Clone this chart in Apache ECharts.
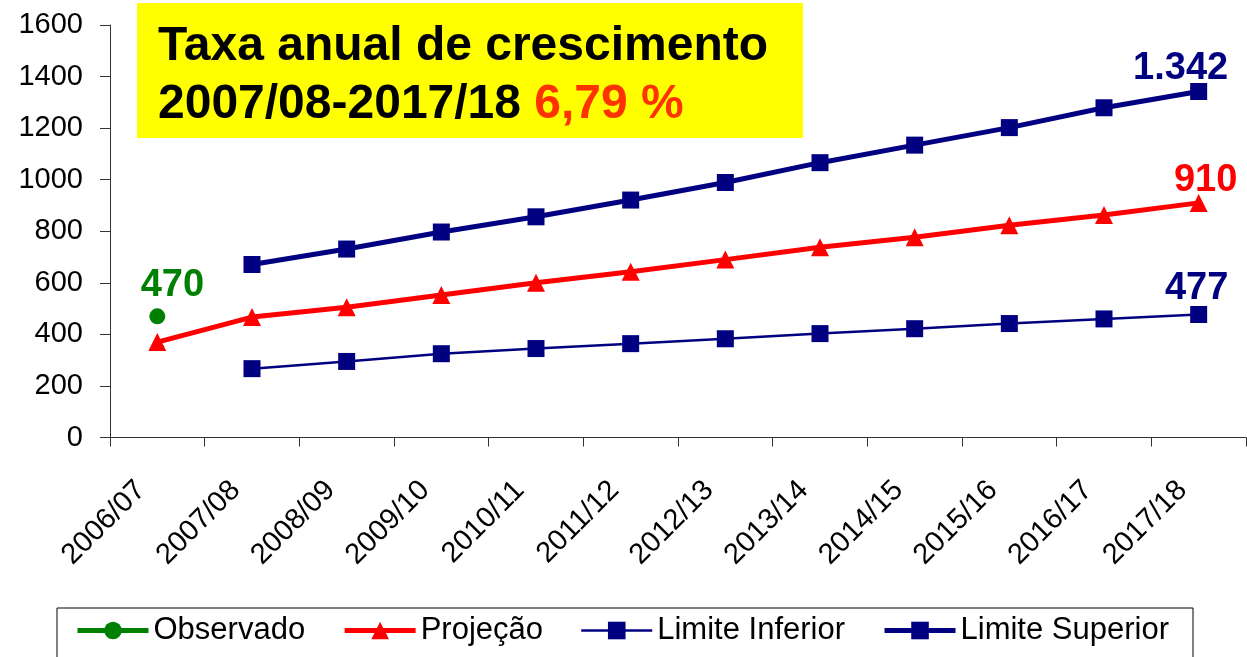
<!DOCTYPE html>
<html>
<head>
<meta charset="utf-8">
<script src="https://cdn.jsdelivr.net/npm/echarts@6/dist/echarts.min.js"></script>
<style>
  html, body { margin: 0; padding: 0; background: #fff; }
  #main { width: 1247px; height: 657px; }
</style>
</head>
<body>
<div id="main"></div>
<script>
// dados
var categorias = ['2006/07', '2007/08', '2008/09', '2009/10', '2010/11', '2011/12',
  '2012/13', '2013/14', '2014/15', '2015/16', '2016/17', '2017/18'];
var observado = [470, null, null, null, null, null, null, null, null, null, null, null];
var projecao = [370, 467, 505, 553, 600, 643, 690, 738, 777, 823, 863, 910];
var limiteInferior = [null, 267, 295, 325, 345, 364, 383, 403, 422, 442, 460, 477];
var limiteSuperior = [null, 671, 731, 797, 856, 921, 989, 1066, 1134, 1202, 1279, 1342];
var yTicks = [0, 200, 400, 600, 800, 1000, 1200, 1400, 1600];

var fonte = '"Liberation Sans", Arial, sans-serif';

// rótulo só num ponto
function comRotulo(arr, idx, cor, texto, off) {
  return arr.map(function (v, i) {
    if (i !== idx) return v;
    return {
      value: v,
      label: {
        show: true, position: 'top', distance: 5, offset: off,
        formatter: texto, color: cor, fontSize: 38, fontWeight: 'bold', fontFamily: fonte
      }
    };
  });
}

var chart = echarts.init(document.getElementById('main'));
chart.setOption({
  animation: false,
  // caixa amarela do título
  graphic: [{
    type: 'rect', z: 10,
    shape: { x: 137, y: 3, width: 666, height: 135 },
    style: { fill: '#ffff00' }
  }, {
    type: 'text', z: 11, x: 158, y: 47,
    style: {
      text: 'Taxa anual de crescimento',
      font: 'bold 48px ' + fonte, fill: '#000', verticalAlign: 'middle'
    }
  }, {
    type: 'text', z: 11, x: 158, y: 105,
    style: {
      text: '{a|2007/08-2017/18 }{r|6,79 %}',
      verticalAlign: 'middle',
      rich: {
        a: { fontSize: 48, fontWeight: 'bold', fill: '#000', fontFamily: fonte },
        r: { fontSize: 48, fontWeight: 'bold', fill: '#ff3300', fontFamily: fonte }
      }
    }
  }],
  legend: {
    left: 57, top: 608,
    padding: [7, 24, 20, 18],
    borderColor: '#000', borderWidth: 1,
    itemWidth: 71, itemHeight: 22, itemGap: 37,
    textStyle: { fontSize: 31, color: '#000', fontFamily: fonte },
    data: [
      { name: 'Observado', lineStyle: { width: 5 } },
      { name: 'Projeção', lineStyle: { width: 5 } },
      { name: 'Limite Inferior', lineStyle: { width: 2.5 } },
      { name: 'Limite Superior', lineStyle: { width: 5 } }
    ]
  },
  grid: { left: 110, right: 1, top: 25, bottom: 219.5, containLabel: false },
  xAxis: {
    type: 'category',
    data: categorias,
    boundaryGap: true,
    axisLine: { lineStyle: { color: '#333', width: 1 } },
    axisTick: { show: true, length: 9, interval: 0, lineStyle: { color: '#333' } },
    axisLabel: {
      interval: 0, rotate: 45, margin: 32, padding: [0, 23, 0, 0],
      fontSize: 29, color: '#000', fontFamily: fonte
    }
  },
  yAxis: {
    type: 'value',
    min: yTicks[0], max: yTicks[yTicks.length - 1], interval: 200,
    axisLine: { show: true, lineStyle: { color: '#333', width: 1 } },
    axisTick: { show: true, length: 10, lineStyle: { color: '#333' } },
    splitLine: { show: false },
    axisLabel: {
      margin: 27, fontSize: 29, color: '#000', fontFamily: fonte,
      formatter: function (v) { return String(v); }
    }
  },
  series: [{
    name: 'Observado',
    type: 'line',
    color: '#008000',
    symbol: 'circle', symbolSize: 16,
    lineStyle: { width: 5, color: '#008000' },
    itemStyle: { color: '#008000' },
    z: 5,
    data: comRotulo(observado, 0, '#008000', '470', [15, 1])
  }, {
    name: 'Projeção',
    type: 'line',
    color: '#ff0000',
    symbol: 'triangle', symbolSize: 18,
    lineStyle: { width: 5, color: '#ff0000' },
    itemStyle: { color: '#ff0000' },
    data: comRotulo(projecao, 11, '#ff0000', '910', [7, 11])
  }, {
    name: 'Limite Inferior',
    type: 'line',
    color: '#000080',
    symbol: 'rect', symbolSize: 17,
    lineStyle: { width: 2.5, color: '#000080' },
    itemStyle: { color: '#000080' },
    data: comRotulo(limiteInferior, 11, '#000080', '477', [-2, 6])
  }, {
    name: 'Limite Superior',
    type: 'line',
    color: '#000080',
    symbol: 'rect', symbolSize: 17,
    lineStyle: { width: 5, color: '#000080' },
    itemStyle: { color: '#000080' },
    data: comRotulo(limiteSuperior, 11, '#000080', '1.342', [-18, 9])
  }]
});
</script>
</body>
</html>
